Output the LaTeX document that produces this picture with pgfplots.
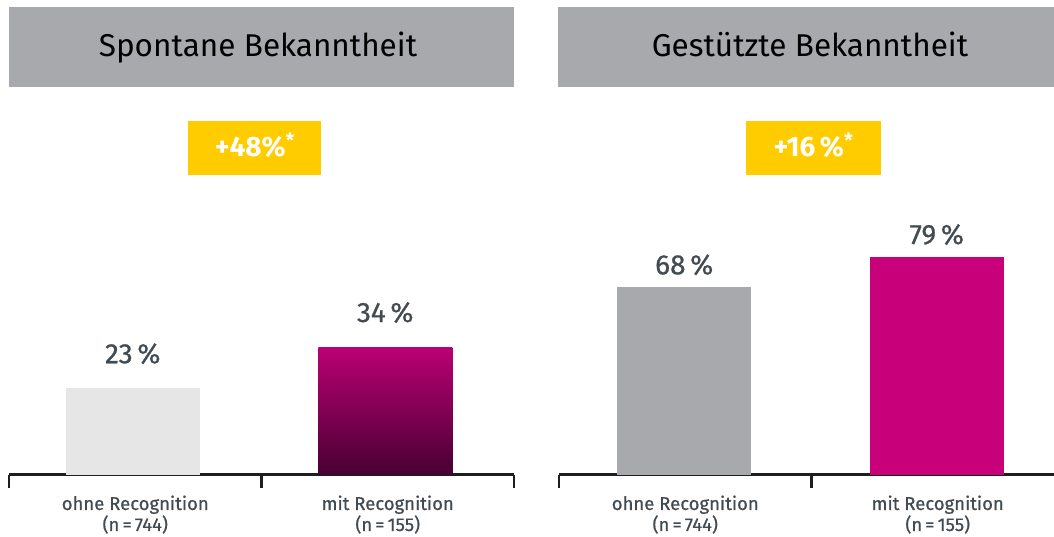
\documentclass[border=0pt]{standalone}
\usepackage{pgfplots}
\pgfplotsset{compat=1.18}
\usepackage{fontspec}
\setmainfont{Fira Sans}
\newfontfamily\medium{Fira Sans}[FakeBold=0.7]
\definecolor{titlegray}{HTML}{A7A9AC}
\definecolor{badge}{HTML}{FFCC00}
\definecolor{lightbar}{HTML}{E6E6E6}
\definecolor{graybar}{HTML}{A7A9AC}
\definecolor{magbar}{HTML}{C8007A}
\definecolor{gradtop}{HTML}{BA0073}
\definecolor{gradbot}{HTML}{480033}
\definecolor{labelgray}{HTML}{414B51}
\definecolor{axisblack}{HTML}{1E1E1E}
\pgfplotsset{mybars/.style={
  scale only axis, width=505pt, height=300pt, anchor=south west,
  xmin=-0.5, xmax=1.5, ymin=0,
  axis x line*=bottom, axis y line=none,
  xtick={0,1}, xticklabels={{ohne Recognition\\(n\,=\,744)},{mit Recognition\\(n\,=\,155)}},
  major tick length=0pt,
  minor xtick={-0.5,0.5,1.5}, minor tick length=13pt, tick align=outside,
  minor tick style={line width=2.4pt, color=axisblack},
  x axis line style={line width=2.4pt, color=axisblack},
  xticklabel style={align=center, font=\medium\fontsize{18.5}{21}\selectfont, text=labelgray, yshift=-17.5pt},
  ybar, bar width=134pt,
  nodes near coords={\pgfmathprintnumber[assume math mode=true]{\pgfplotspointmeta}\,\%},
  every node near coord/.append style={anchor=base, inner sep=0pt, font=\medium\fontsize{28}{32}\selectfont, text=labelgray},
  clip=false,
}}
\begin{document}
\begin{tikzpicture}[x=1pt,y=1pt]
\useasboundingbox (0,0) rectangle (1054,536);
% title boxes
\fill[titlegray] (9,449) rectangle (514,529);
\node[anchor=base, font=\fontsize{31.5}{36}\selectfont, text=black] at (258,479) {Spontane Bekanntheit};
\fill[titlegray] (558,449) rectangle (1054,529);
\node[anchor=base, font=\fontsize{31.5}{36}\selectfont, text=black] at (810,479) {Gestützte Bekanntheit};
% badges
\fill[badge] (188,361) rectangle (321,415);
\node[anchor=base, font=\bfseries\fontsize{28}{32}\selectfont, text=white] at (255,379) {+48\%\textsuperscript{*}};
\fill[badge] (746,361) rectangle (881,415);
\node[anchor=base, font=\bfseries\fontsize{28}{32}\selectfont, text=white] at (813.5,379) {+16\,\%\textsuperscript{*}};
% left axis
\begin{axis}[mybars, at={(9pt,61.5pt)}, ymax=80, bar shift=-2.5pt,
  every node near coord/.append style={yshift=25pt}]
\addplot[draw=none, fill=lightbar] coordinates {(0,23)};
\addplot[draw=none, top color=gradtop, bottom color=gradbot] coordinates {(1,34)};
\end{axis}
% right axis
\begin{axis}[mybars, at={(559pt,61.5pt)}, ymax=109, bar shift=-1pt,
  every node near coord/.append style={yshift=13pt}]
\addplot[draw=none, fill=graybar] coordinates {(0,68)};
\addplot[draw=none, fill=magbar] coordinates {(1,79)};
\end{axis}
\end{tikzpicture}
\end{document}
